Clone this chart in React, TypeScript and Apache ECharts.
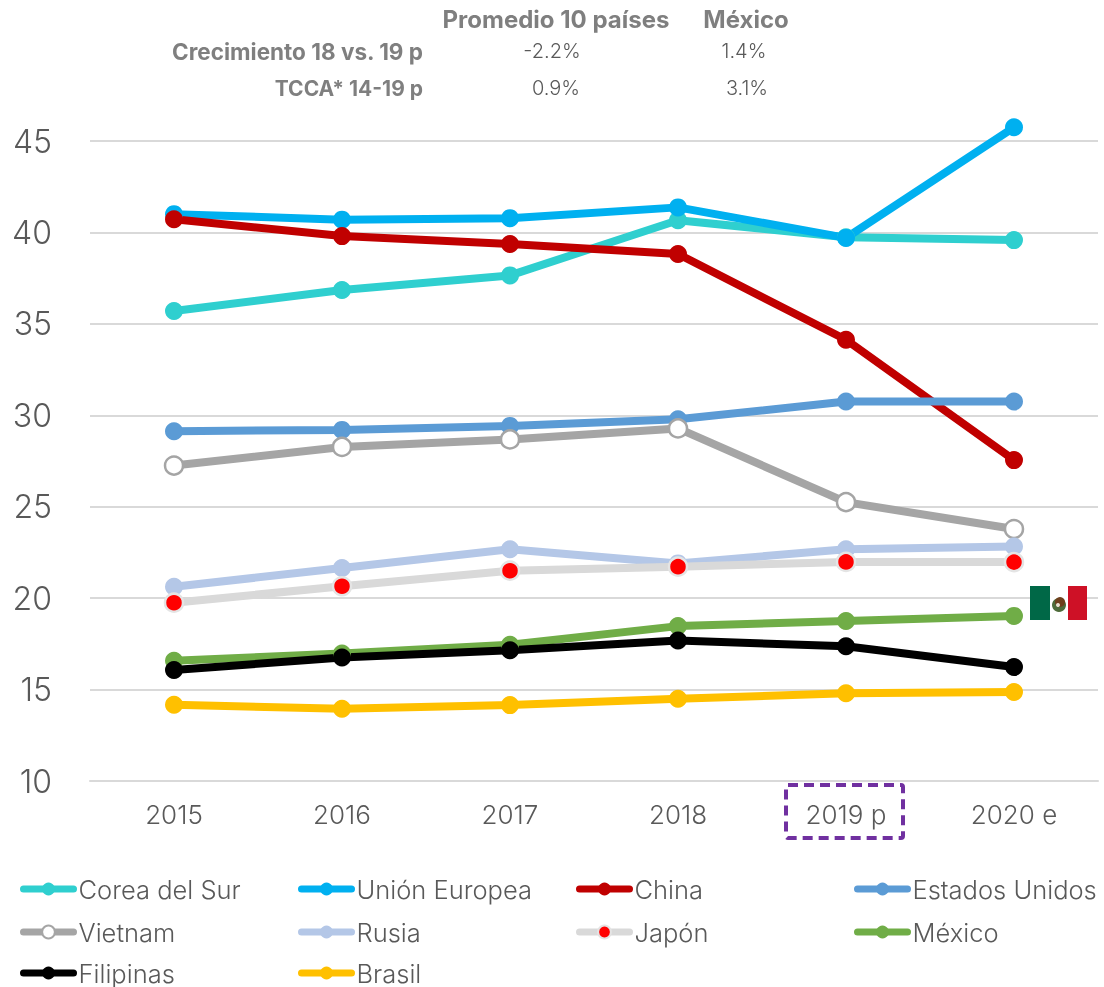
import React, { useEffect, useRef } from "react";
import * as echarts from "echarts";

const categories = ["2015", "2016", "2017", "2018", "2019 p", "2020 e"];
const yTicks = [10, 15, 20, 25, 30, 35, 40, 45];

const corea = [35.7, 36.85, 37.65, 40.67, 39.74, 39.58];
const unionEuropea = [41.0, 40.7, 40.78, 41.37, 39.7, 45.75];
const china = [40.72, 39.8, 39.37, 38.82, 34.13, 27.55];
const estadosUnidos = [29.13, 29.2, 29.42, 29.78, 30.75, 30.75];
const vietnam = [27.25, 28.27, 28.68, 29.28, 25.25, 23.78];
const rusia = [20.62, 21.65, 22.67, 21.9, 22.67, 22.82];
const japon = [19.75, 20.65, 21.5, 21.72, 21.98, 21.97];
const mexico = [16.58, 16.97, 17.45, 18.47, 18.75, 19.03];
const filipinas = [16.07, 16.75, 17.15, 17.68, 17.37, 16.23];
const brasil = [14.17, 13.95, 14.15, 14.5, 14.8, 14.87];

const FONT = "Inter";
const TEXT = "#595959";
const HEAD = "#7F7F7F";

const seriesDefs = [
  { name: "Corea del Sur", data: corea, color: "#2FCFCF", fill: "#2FCFCF", border: "#2FCFCF", lx: 20, ly: 876 },
  { name: "Unión Europea", data: unionEuropea, color: "#00B0F0", fill: "#00B0F0", border: "#00B0F0", lx: 298, ly: 876 },
  { name: "China", data: china, color: "#C00000", fill: "#C00000", border: "#C00000", lx: 576, ly: 876 },
  { name: "Estados Unidos", data: estadosUnidos, color: "#5B9BD5", fill: "#5B9BD5", border: "#5B9BD5", lx: 854, ly: 876 },
  { name: "Vietnam", data: vietnam, color: "#A5A5A5", fill: "#FFFFFF", border: "#A5A5A5", lx: 20, ly: 919 },
  { name: "Rusia", data: rusia, color: "#B4C7E7", fill: "#B4C7E7", border: "#B4C7E7", lx: 298, ly: 919 },
  { name: "Japón", data: japon, color: "#D9D9D9", fill: "#FF0000", border: "#E4E4E4", lx: 576, ly: 919 },
  { name: "México", data: mexico, color: "#70AD47", fill: "#70AD47", border: "#70AD47", lx: 854, ly: 919 },
  { name: "Filipinas", data: filipinas, color: "#000000", fill: "#000000", border: "#000000", lx: 20, ly: 960 },
  { name: "Brasil", data: brasil, color: "#FFC000", fill: "#FFC000", border: "#FFC000", lx: 298, ly: 960 },
];

const headers = [
  { text: "Promedio 10 países", x: 556, y: 19 },
  { text: "México", x: 746, y: 19 },
];
const rows = [
  { label: "Crecimiento 18 vs. 19 p", size: 22.5, avg: "-2.2%", mx: "1.4%", y: 51, avgX: 552, mxX: 744 },
  { label: "TCCA* 14-19 p", size: 21, avg: "0.9%", mx: "3.1%", y: 88, avgX: 556, mxX: 747 },
];

export default function App() {
  const ref = useRef<HTMLDivElement>(null);
  useEffect(() => {
    const chart = echarts.init(ref.current!, undefined, { renderer: "svg" });
    const txt = (text: string, x: number, y: number, align: string, weight: number, color: string, size: number) => ({
      type: "text",
      x,
      y,
      z: 20,
      style: { text, fill: color, font: `${weight} ${size}px ${FONT}`, textAlign: align, textVerticalAlign: "middle" },
    });
    chart.setOption({
      animation: false,
      textStyle: { fontFamily: FONT },
      grid: { left: 90, top: 141, width: 1008, height: 640, containLabel: false },
      xAxis: {
        type: "category",
        data: categories,
        boundaryGap: true,
        axisTick: { show: false },
        axisLine: { lineStyle: { color: "#D9D9D9", width: 2 } },
        axisLabel: { color: TEXT, fontSize: 26, fontWeight: 300, fontFamily: FONT, margin: 20 },
      },
      yAxis: {
        type: "value",
        min: yTicks[0],
        max: yTicks[yTicks.length - 1],
        interval: 5,
        axisLine: { show: false },
        axisTick: { show: false },
        splitLine: { lineStyle: { color: "#D9D9D9", width: 2 } },
        axisLabel: { color: TEXT, fontSize: 32, fontWeight: 300, fontFamily: FONT, margin: 38 },
      },
      legend: seriesDefs.map((s) => ({
        data: [s.name],
        left: s.lx,
        top: s.ly,
        padding: 0,
        itemWidth: 50,
        itemHeight: 16,
        lineStyle: { width: 7, cap: "round" },
        textStyle: { color: TEXT, fontSize: 25.5, fontWeight: 300, fontFamily: FONT },
      })),
      series: seriesDefs.map((s) => ({
        name: s.name,
        type: "line",
        data: s.data,
        clip: false,
        symbol: "circle",
        symbolSize: 18,
        showSymbol: true,
        lineStyle: { color: s.color, width: 8, cap: "round" },
        itemStyle: { color: s.fill, borderColor: s.border, borderWidth: s.fill === s.border ? 0 : 2.5 },
      })),
      graphic: [
        ...headers.map((h) => txt(h.text, h.x, h.y, "center", 700, HEAD, 24)),
        ...rows.flatMap((r) => [
          txt(r.label, 423, r.y, "right", 700, HEAD, r.size),
          txt(r.avg, r.avgX, r.y, "center", 300, TEXT, 20),
          txt(r.mx, r.mxX, r.y, "center", 300, TEXT, 20),
        ]),
        {
          type: "rect",
          z: 20,
          shape: { x: 786, y: 785, width: 117, height: 53, r: 2 },
          style: { fill: "none", stroke: "#7030A0", lineWidth: 4, lineDash: [10, 6] },
        },
        { type: "rect", z: 20, shape: { x: 1030, y: 586, width: 57, height: 34 }, style: { fill: "#FFFFFF" } },
        { type: "rect", z: 21, shape: { x: 1030, y: 586, width: 20, height: 34 }, style: { fill: "#006847" } },
        { type: "rect", z: 21, shape: { x: 1068, y: 586, width: 19, height: 34 }, style: { fill: "#CE1126" } },
        { type: "circle", z: 21, shape: { cx: 1059, cy: 605, r: 7 }, style: { fill: "#4E6B3A" } },
        { type: "circle", z: 22, shape: { cx: 1060, cy: 602, r: 5 }, style: { fill: "#6E3F1C" } },
        { type: "circle", z: 23, shape: { cx: 1058, cy: 605, r: 2 }, style: { fill: "#E8E0D0" } },
      ],
    });
    return () => chart.dispose();
  }, []);
  return <div ref={ref} style={{ position: "fixed", left: 0, top: 0, width: 1104, height: 987 }} />;
}
